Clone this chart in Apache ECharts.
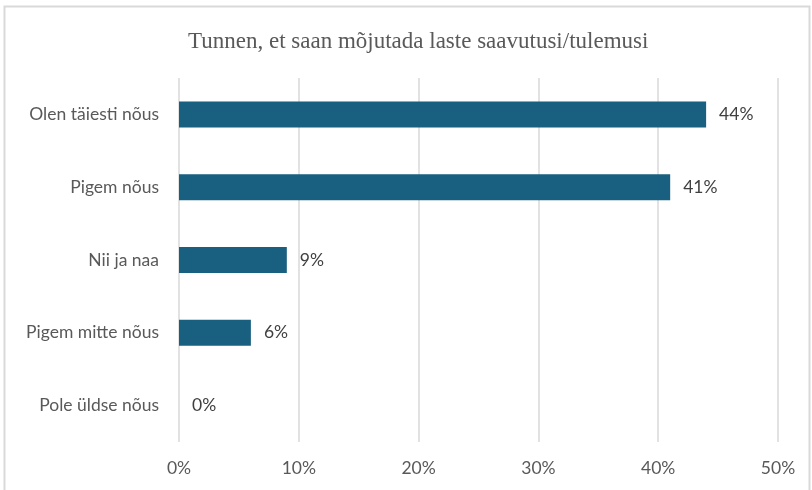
<!DOCTYPE html>
<html>
<head>
<meta charset="utf-8">
<script src="https://cdn.jsdelivr.net/npm/echarts@6/dist/echarts.min.js"></script>
<style>
  html, body { margin: 0; padding: 0; background: #fff; }
  #chart { width: 812px; height: 490px; }
</style>
</head>
<body>
<div id="chart"></div>
<script>
// andmed
var categories = ['Olen täiesti nõus', 'Pigem nõus', 'Nii ja naa', 'Pigem mitte nõus', 'Pole üldse nõus'];
var values = [44, 41, 9, 6, 0];
var xTicks = [0, 10, 20, 30, 40, 50];

var chart = echarts.init(document.getElementById('chart'));

chart.setOption({
    backgroundColor: '#fff',
    animation: false,
    title: {
        text: 'Tunnen, et saan mõjutada laste saavutusi/tulemusi',
        left: 183,
        top: 25,
        textStyle: {
            fontFamily: 'Liberation Serif',
            fontWeight: 'normal',
            fontSize: 23,
            color: '#595959'
        }
    },
    // raam ümber
    graphic: [{
        type: 'rect',
        shape: { x: 4.5, y: 6.5, width: 805, height: 500 },
        style: { fill: 'none', stroke: '#d9d9d9', lineWidth: 2 },
        silent: true
    }],
    grid: {
        left: 179,
        right: 34,
        top: 78,
        bottom: 48
    },
    xAxis: {
        type: 'value',
        min: xTicks[0],
        max: xTicks[xTicks.length - 1],
        interval: 10,
        axisLine: { show: false },
        axisTick: { show: false },
        splitLine: { lineStyle: { color: '#d9d9d9', width: 1.5 } },
        axisLabel: {
            formatter: '{value}%',
            margin: 17,
            fontFamily: 'Lato',
            fontSize: 17.5,
            color: '#595959'
        }
    },
    yAxis: {
        type: 'category',
        data: categories,
        inverse: true,
        axisLine: { show: false },
        axisTick: { show: false },
        axisLabel: {
            margin: 20,
            fontFamily: 'Lato',
            fontSize: 17.5,
            color: '#595959'
        }
    },
    series: [{
        type: 'bar',
        data: values,
        barWidth: 26,
        itemStyle: { color: '#185F80' },
        label: {
            show: true,
            position: 'right',
            distance: 13,
            formatter: '{c}%',
            fontFamily: 'Lato',
            fontSize: 17.5,
            color: '#404040'
        }
    }]
});
</script>
</body>
</html>
